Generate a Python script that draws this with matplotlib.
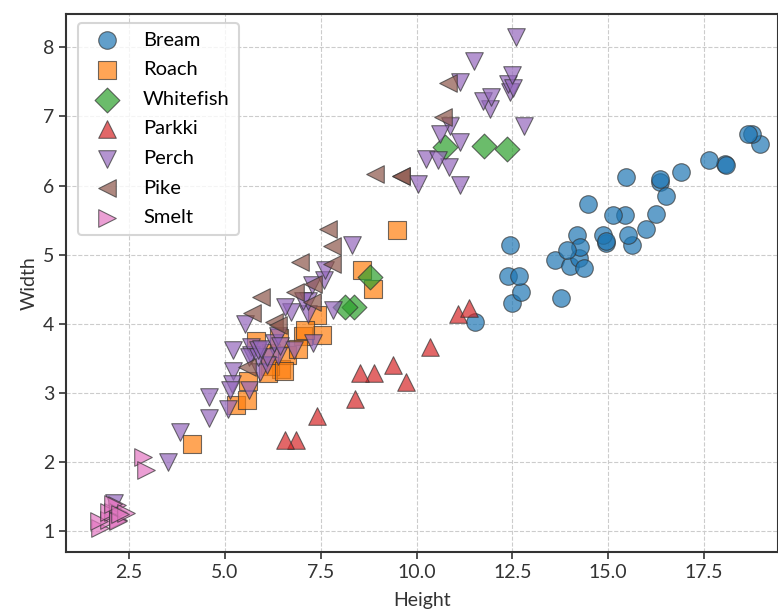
import matplotlib.pyplot as plt
import numpy as np

plt.rcParams['font.family'] = ['Lato', 'DejaVu Sans']

species = ['Bream', 'Roach', 'Whitefish', 'Parkki', 'Perch', 'Pike', 'Smelt']

bream_h = [11.52, 12.48, 12.3778, 12.73, 12.444, 13.6024, 14.1795, 12.67, 14.0049, 14.2266,
           14.2628, 14.3714, 13.7592, 13.9129, 14.9544, 15.438, 14.8604, 14.938, 15.633, 14.4738,
           15.1285, 15.9936, 15.5227, 15.4686, 16.2405, 16.36, 16.3618, 16.517, 16.8896, 18.957,
           18.0369, 18.084, 18.7542, 18.6354, 17.6235]
bream_w = [4.02, 4.3056, 4.6961, 4.4555, 5.134, 4.9274, 5.2785, 4.69, 4.8438, 4.9594,
           5.1042, 4.8146, 4.368, 5.0728, 5.1708, 5.58, 5.2854, 5.1975, 5.1338, 5.7276,
           5.5695, 5.3704, 5.2801, 6.1306, 5.589, 6.0532, 6.09, 5.8515, 6.1984, 6.603,
           6.3063, 6.292, 6.7497, 6.7473, 6.3705]

roach_h = [4.1472, 5.2983, 5.5756, 5.6166, 6.216, 6.4752, 6.1677, 6.1146, 5.8045, 6.6339,
           7.0334, 6.55, 6.4, 7.5344, 6.9153, 7.3968, 7.0866, 8.8768, 8.568, 9.485]
roach_w = [2.268, 2.8217, 2.9044, 3.1746, 3.5742, 3.3516, 3.3957, 3.2943, 3.7544, 3.5478,
           3.8203, 3.325, 3.8, 3.8352, 3.6312, 4.1272, 3.906, 4.4968, 4.7736, 5.355]

whitefish_h = [8.3804, 8.1454, 8.778, 10.744, 11.7612, 12.354]
whitefish_w = [4.2476, 4.2485, 4.6816, 6.562, 6.5736, 6.525]

parkki_h = [6.8475, 6.5772, 7.4052, 8.3922, 8.8928, 8.5376, 9.396, 9.7364, 10.3458, 11.088, 11.368]
parkki_w = [2.3265, 2.3142, 2.673, 2.9181, 3.2928, 3.2944, 3.4104, 3.1571, 3.6636, 4.144, 4.234]

perch_h = [2.112, 3.528, 3.824, 4.5924, 4.588, 5.2224, 5.1992, 5.6358, 5.1376, 5.082,
           5.6925, 5.9175, 5.6925, 6.384, 6.11, 5.64, 6.11, 5.875, 5.5225, 5.856,
           6.792, 5.9532, 5.2185, 6.275, 7.293, 6.375, 6.7334, 6.4395, 6.561, 7.168,
           8.323, 7.1672, 7.0516, 7.2828, 7.8204, 7.5852, 7.6156, 10.03, 10.2565, 11.4884,
           10.881, 10.6091, 10.835, 10.5717, 11.1366, 11.1366, 12.4313, 11.9286, 11.73, 12.3808,
           11.135, 12.8002, 11.9328, 12.5125, 12.604, 12.4888]
perch_w = [1.408, 1.9992, 2.432, 2.6316, 2.9415, 3.3216, 3.1234, 3.0502, 3.0368, 2.772,
           3.555, 3.3075, 3.6675, 3.534, 3.4075, 3.525, 3.525, 3.525, 3.995, 3.624,
           3.624, 3.63, 3.626, 3.725, 3.723, 3.825, 4.1658, 3.6835, 4.239, 4.144,
           5.1373, 4.335, 4.335, 4.5662, 4.2042, 4.6354, 4.7716, 6.018, 6.3875, 7.7957,
           6.864, 6.7408, 6.2646, 6.3666, 7.4934, 6.003, 7.3514, 7.1064, 7.225, 7.4624,
           6.63, 6.8684, 7.2772, 7.4165, 8.142, 7.5958]

pike_h = [5.568, 5.7078, 5.9364, 6.2884, 7.29, 6.396, 7.28, 6.825, 7.786, 6.96,
          7.792, 7.68, 8.9262, 10.6863, 9.6, 9.6, 10.812]
pike_w = [3.3756, 4.158, 4.3844, 4.0198, 4.5765, 3.977, 4.3225, 4.459, 5.1296, 4.896,
          4.87, 5.376, 6.1712, 6.9849, 6.144, 6.144, 7.48]

smelt_h = [1.7388, 1.972, 1.7284, 2.196, 2.0832, 1.9782, 2.2139, 2.2139, 2.2044, 2.0904,
           2.43, 2.277, 2.8728, 2.9322]
smelt_w = [1.0476, 1.16, 1.1484, 1.38, 1.2772, 1.2852, 1.2838, 1.1659, 1.1484, 1.3936,
           1.269, 1.2558, 2.0672, 1.8792]

heights = [bream_h, roach_h, whitefish_h, parkki_h, perch_h, pike_h, smelt_h]
widths = [bream_w, roach_w, whitefish_w, parkki_w, perch_w, pike_w, smelt_w]
markers = ['o', 's', 'D', '^', 'v', '<', '>']
colors = ['#1f77b4', '#ff7f0e', '#2ca02c', '#d62728', '#9467bd', '#8c564b', '#e377c2']

fig = plt.figure(figsize=(7.78, 6.12), dpi=100)
ax = fig.add_axes([0.085, 0.098, 0.915, 0.879])

for name, h, w, m, c in zip(species, heights, widths, markers, colors):
    ax.scatter(h, w, marker=m, s=160, color=c, alpha=0.7,
               edgecolor='#333333', linewidth=0.8, label=name, zorder=3)

ax.set_xlim(0.86, 19.43)
ax.set_ylim(0.70, 8.48)
ax.set_xticks([2.5, 5.0, 7.5, 10.0, 12.5, 15.0, 17.5])
ax.set_yticks([1, 2, 3, 4, 5, 6, 7, 8])
ax.grid(True, linestyle='--', color='#cccccc', linewidth=0.8)
ax.set_axisbelow(True)

for side in ['top', 'left', 'bottom', 'right']:
    ax.spines[side].set_color('#333333')
    ax.spines[side].set_linewidth(1.5)
ax.tick_params(labelsize=14, colors='#333333', length=5, width=1.2)

ax.set_xlabel('Height', fontsize=14, color='#333333', labelpad=8)
ax.set_ylabel('Width', fontsize=14, color='#333333')

leg = ax.legend(loc='upper left', fontsize=14.5, frameon=True, borderpad=0.45,
                labelspacing=0.62, handletextpad=0.8, fancybox=True,
                bbox_to_anchor=(0.002, 1.003))
leg.get_frame().set_edgecolor('#cccccc')
leg.get_frame().set_linewidth(1.5)

fig.savefig('out.png', dpi=100)
